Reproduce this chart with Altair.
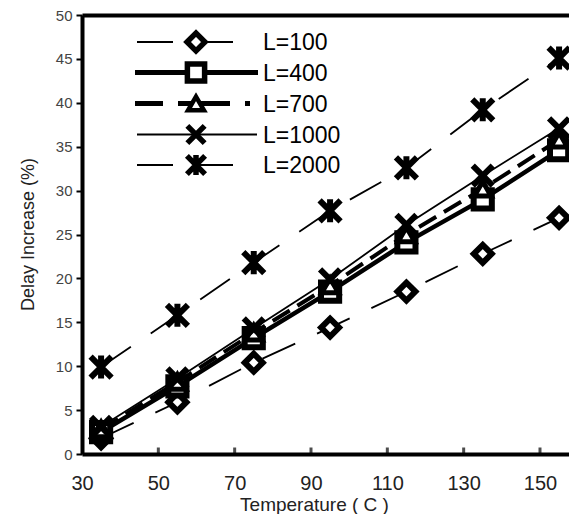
import altair as alt
import pandas as pd

# ---------------- data ----------------
temps = [35, 55, 75, 95, 115, 135, 155]
series_names = ["L=100", "L=400", "L=700", "L=1000", "L=2000"]
l100 = [1.8, 5.9, 10.4, 14.4, 18.5, 22.8, 26.9]
l400 = [2.5, 7.7, 13.2, 18.5, 24.1, 29.0, 34.6]
l700 = [2.8, 8.2, 13.8, 19.2, 25.0, 30.2, 35.8]
l1000 = [3.1, 8.6, 14.3, 19.9, 26.1, 31.7, 37.1]
l2000 = [9.9, 15.8, 21.8, 27.7, 32.6, 39.2, 45.1]
y_ticks = [0, 5, 10, 15, 20, 25, 30, 35, 40, 45, 50]
x_ticks = [30, 50, 70, 90, 110, 130, 150]
inner_ticks = [50, 70, 90, 110, 130, 150]

series_values = {"L=100": l100, "L=400": l400, "L=700": l700,
                 "L=1000": l1000, "L=2000": l2000}

X_PATH = "M-1,-1L1,1M-1,1L1,-1"
STAR_PATH = "M-1,-1L1,1M-1,1L1,-1M0,-1.1L0,1.1"

styles = {
    "L=100": dict(lw=1.8, dash=[36, 24], shape="diamond", size=320, fill=True, mw=6,
                  leg_x=(55, 155), leg_dash=[36, 24], leg_w=2, leg_k=1.0),
    "L=400": dict(lw=4.5, dash=None, shape="square", size=330, fill=True, mw=6,
                  leg_x=(53, 176), leg_dash=None, leg_w=5, leg_k=0.9),
    "L=700": dict(lw=4.0, dash=[20, 9], shape="triangle-up", size=280, fill=True, mw=5,
                  leg_x=(53, 168), leg_dash=[28, 15, 52, 15, 5, 15], leg_w=5, leg_k=0.9),
    "L=1000": dict(lw=1.8, dash=None, shape=X_PATH, size=400, fill=False, mw=6,
                   leg_x=(55, 175), leg_dash=None, leg_w=2, leg_k=0.75),
    "L=2000": dict(lw=1.8, dash=[36, 24], shape=STAR_PATH, size=440, fill=False, mw=6,
                   leg_x=(55, 155), leg_dash=[36, 24], leg_w=2, leg_k=0.75),
}
legend_rows = [27, 57.5, 88.5, 119.5, 150]

FONT = "Liberation Sans"
xscale = alt.Scale(domain=[30, 157.6], nice=False, zero=False)
yscale = alt.Scale(domain=[0, 50], nice=False, zero=False)

yaxis = alt.Axis(values=y_ticks, title="Delay Increase (%)", grid=False,
                 domainColor="black", domainWidth=4, tickColor="black", tickWidth=2,
                 tickSize=6, labelFontSize=15, labelColor="#444", labelPadding=4,
                 labelFont=FONT, titleFont=FONT, titleFontSize=18, titleFontWeight="normal",
                 titleColor="#222", titleX=-54, titleY=219, titleBaseline="middle")
bottom_axis = alt.Axis(values=x_ticks, title="Temperature ( C )", grid=False,
                       domainColor="black", domainWidth=4, ticks=False, labelFlush=False,
                       labelFontSize=20, labelColor="#222", labelPadding=19, labelFont=FONT,
                       titleFont=FONT, titleFontSize=19, titleFontWeight="normal",
                       titleColor="#222", titleX=232, titleY=56, titleBaseline="alphabetic")
top_axis = alt.Axis(orient="top", labels=False, ticks=False, title="", grid=False,
                    domainColor="black", domainWidth=4)

layers = []
# lines
for i, name in enumerate(series_names):
    st = styles[name]
    df = pd.DataFrame({"temp": temps, "value": series_values[name]})
    kw = dict(color="black", strokeWidth=st["lw"])
    if st["dash"]:
        kw["strokeDash"] = st["dash"]
    if i == 0:
        ax = bottom_axis
    elif i == 1:
        ax = top_axis
    else:
        ax = None
    layers.append(
        alt.Chart(df).mark_line(**kw).encode(
            x=alt.X("temp:Q", scale=xscale, axis=ax),
            y=alt.Y("value:Q", scale=yscale, axis=yaxis),
        )
    )
# markers
for name in series_names:
    st = styles[name]
    df = pd.DataFrame({"temp": temps, "value": series_values[name]})
    if st["fill"]:
        mk = dict(shape=st["shape"], size=st["size"], filled=True, fill="white",
                  stroke="black", strokeWidth=st["mw"], opacity=1)
    else:
        mk = dict(shape=st["shape"], size=st["size"], filled=False,
                  stroke="black", strokeWidth=st["mw"], opacity=1)
    layers.append(
        alt.Chart(df).mark_point(**mk).encode(
            x=alt.X("temp:Q", scale=xscale, axis=None),
            y=alt.Y("value:Q", scale=yscale, axis=yaxis),
        )
    )
# small inward tick bumps on x axis
tick_df = pd.DataFrame({"tick": inner_ticks, "zero": [0] * len(inner_ticks)})
layers.append(
    alt.Chart(tick_df).mark_tick(orient="vertical", color="black", thickness=3,
                                 size=7, yOffset=-3).encode(
        x=alt.X("tick:Q", scale=xscale, axis=None),
        y=alt.Y("zero:Q", scale=yscale, axis=yaxis),
    )
)
# manual legend
for name, ry in zip(series_names, legend_rows):
    st = styles[name]
    one = pd.DataFrame({"label": [name]})
    rk = dict(color="black", strokeWidth=st["leg_w"])
    if st["leg_dash"]:
        rk["strokeDash"] = st["leg_dash"]
    layers.append(
        alt.Chart(one).mark_rule(**rk).encode(
            x=alt.value(st["leg_x"][0]), x2=alt.value(st["leg_x"][1]), y=alt.value(ry)
        )
    )
    if st["fill"]:
        mk = dict(shape=st["shape"], size=st["size"] * st["leg_k"], filled=True,
                  fill="white", stroke="black", strokeWidth=st["mw"] - 0.5, opacity=1)
    else:
        mk = dict(shape=st["shape"], size=st["size"] * st["leg_k"], filled=False,
                  stroke="black", strokeWidth=st["mw"] - 0.5, opacity=1)
    layers.append(
        alt.Chart(one).mark_point(**mk).encode(x=alt.value(114), y=alt.value(ry))
    )
    layers.append(
        alt.Chart(one).mark_text(align="left", baseline="middle", fontSize=23,
                                 font=FONT, color="black").encode(
            x=alt.value(181), y=alt.value(ry + 1), text="label:N"
        )
    )

chart = (
    alt.layer(*layers)
    .resolve_axis(x="independent")
    .properties(width=487, height=439,
                autosize=alt.AutoSizeParams(type="none"),
                padding={"left": 82, "top": 15, "right": 0, "bottom": 60})
    .configure_view(stroke=None)
    .configure(background="white")
)

chart.save("out.html", embed_options={"renderer": "svg", "actions": False})
